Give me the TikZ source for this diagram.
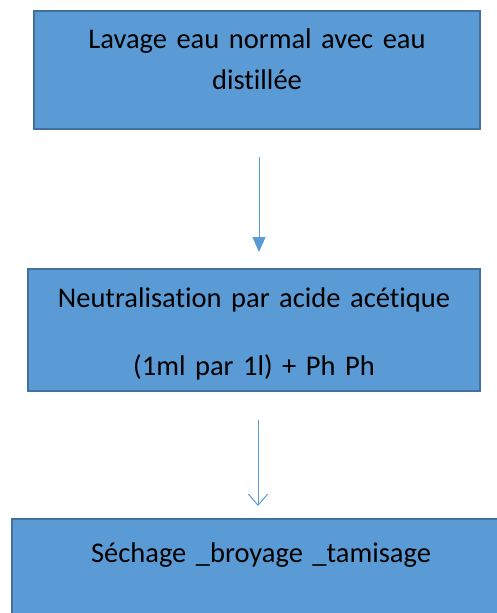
\documentclass[tikz,border=0pt]{standalone}
\usepackage{fontspec}
\setmainfont{Carlito}[Ligatures={TeX,NoCommon}]
\usetikzlibrary{arrows.meta}
\definecolor{boxblue}{HTML}{5B9BD5}
\definecolor{boxline}{HTML}{41719C}
\tikzset{
  stepbox/.style={draw=boxline, line width=1.6pt, fill=boxblue, rectangle, anchor=north,
    inner xsep=0pt, inner ysep=0pt, align=center, font=\fontsize{28.5}{41}\selectfont},
  flow/.style={draw=boxblue, line width=1pt}
}
\begin{document}
\begin{tikzpicture}[x=1pt,y=-1pt]
\useasboundingbox (0,0) rectangle (497,613);
\clip (0,0) rectangle (497,613);
% Lavage
\node[stepbox, text width=446pt, text height=38pt, text depth=80pt] (lavage) at (257,10)
  {Lavage eau normal avec eau\\distillée};
% Neutralisation
\node[stepbox, text width=452pt, text height=39pt, text depth=83pt] (neutre) at (254,268)
  {Neutralisation par acide acétique\\[27pt](1ml par 1l) + Ph Ph};
% Sechage
\node[stepbox, text width=498pt, text height=44pt, text depth=80pt] (sechage) at (261,518)
  {Séchage \_broyage \_tamisage};
% connectors
\coordinate (a1) at (259,157);
\coordinate (a2) at (258,420);
\draw[flow, -{Triangle[length=15pt, width=13pt]}] (a1) -- ([yshift=16pt]a1 |- neutre.north);
\draw[flow, -{Straight Barb[length=11pt, width=19pt, line width=1pt]}] (a2) -- ([yshift=12pt]a2 |- sechage.north);
\end{tikzpicture}
\end{document}
